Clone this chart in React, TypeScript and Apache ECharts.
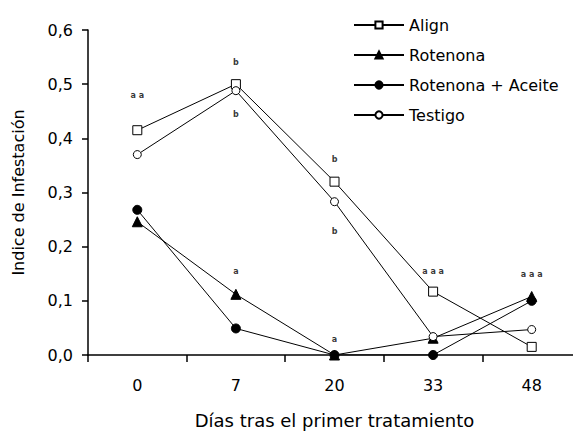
import React, { useEffect, useRef } from "react";
import * as echarts from "echarts";

const categories = ["0", "7", "20", "33", "48"];
const align = [0.415, 0.5, 0.32, 0.117, 0.015];
const rotenona = [0.246, 0.112, 0.0, 0.031, 0.108];
const rotenonaAceite = [0.268, 0.049, 0.0, 0.0, 0.1];
const testigo = [0.37, 0.488, 0.283, 0.034, 0.047];
const yTicks = [0, 0.1, 0.2, 0.3, 0.4, 0.5, 0.6];

// small significance letters placed above/below points
const annotIdx = [0, 1, 1, 2, 2, 1, 2, 3, 4];
const annotVal = [0.478, 0.54, 0.443, 0.36, 0.227, 0.153, 0.028, 0.153, 0.148];
const annotText = ["a a", "b", "b", "b", "b", "a", "a", "a a a", "a a a"];

export default function App() {
  const ref = useRef<HTMLDivElement>(null);
  useEffect(() => {
    document.body.style.margin = "0";
    document.body.style.overflow = "hidden";
    if (!ref.current) return;
    const chart = echarts.init(ref.current, null, { renderer: "svg" });
    const font = "DejaVu Sans, Verdana, sans-serif";
    const mk = (name: string, data: number[], symbol: string, filled: boolean, size: number) => ({
      name,
      type: "line",
      data,
      symbol,
      symbolSize: size,
      showAllSymbol: true,
      lineStyle: { color: "#000", width: 1 },
      itemStyle: { color: filled ? "#000" : "#fff", borderColor: "#000", borderWidth: 1 },
      z: 3,
    });
    chart.setOption({
      animation: false,
      backgroundColor: "#fff",
      textStyle: { fontFamily: font, color: "#000" },
      grid: { left: 88, right: -8, top: 30, bottom: 77, outerBoundsMode: "none", containLabel: false },
      legend: {
        orient: "vertical",
        left: 348,
        top: 12,
        itemWidth: 50,
        itemHeight: 9,
        itemGap: 14,
        textStyle: { fontFamily: font, fontSize: 16, lineHeight: 16, color: "#000" },
        data: ["Align", "Rotenona", "Rotenona + Aceite", "Testigo"],
      },
      xAxis: {
        type: "category",
        data: categories,
        boundaryGap: true,
        name: "Días tras el primer tratamiento",
        nameLocation: "middle",
        nameGap: 56,
        nameTextStyle: { fontSize: 18, color: "#000", fontFamily: font },
        axisLine: { onZero: false, lineStyle: { color: "#000", width: 1.5 } },
        axisTick: { show: true, length: 7, lineStyle: { color: "#000", width: 1.5 } },
        axisLabel: { margin: 22, fontSize: 16, color: "#000" },
        splitLine: { show: false },
      },
      yAxis: {
        type: "value",
        min: 0,
        max: 0.6,
        interval: 0.1,
        name: "Indice de Infestación",
        nameLocation: "middle",
        nameGap: 62,
        nameTextStyle: { fontSize: 16, color: "#000", fontFamily: font },
        axisLine: { show: true, onZero: false, lineStyle: { color: "#000", width: 1.5 } },
        axisTick: { show: true, inside: false, length: 6, lineStyle: { color: "#000", width: 1.5 } },
        axisLabel: {
          formatter: (v: number) => {
            const t = yTicks.find((x) => Math.abs(x - v) < 1e-6);
            return (t ?? v).toFixed(1).replace(".", ",");
          },
          margin: 15,
          fontSize: 16,
          color: "#000",
        },
        splitLine: { show: false },
      },
      series: [
        mk("Align", align, "rect", false, 9),
        mk("Rotenona", rotenona, "triangle", true, 10),
        mk("Rotenona + Aceite", rotenonaAceite, "circle", true, 9),
        mk("Testigo", testigo, "circle", false, 8),
        {
          type: "scatter",
          silent: true,
          symbolSize: 1,
          itemStyle: { color: "rgba(0,0,0,0)" },
          data: annotIdx.map((i, k) => ({ value: [i, annotVal[k]], name: annotText[k] })),
          label: {
            show: true,
            position: "top",
            distance: -4,
            formatter: (p: any) => p.name,
            fontSize: 8,
            fontWeight: "bold",
            color: "#000",
            fontFamily: font,
          },
          z: 4,
        },
      ],
    });
    return () => chart.dispose();
  }, []);
  return <div ref={ref} style={{ width: 573, height: 432 }} />;
}
